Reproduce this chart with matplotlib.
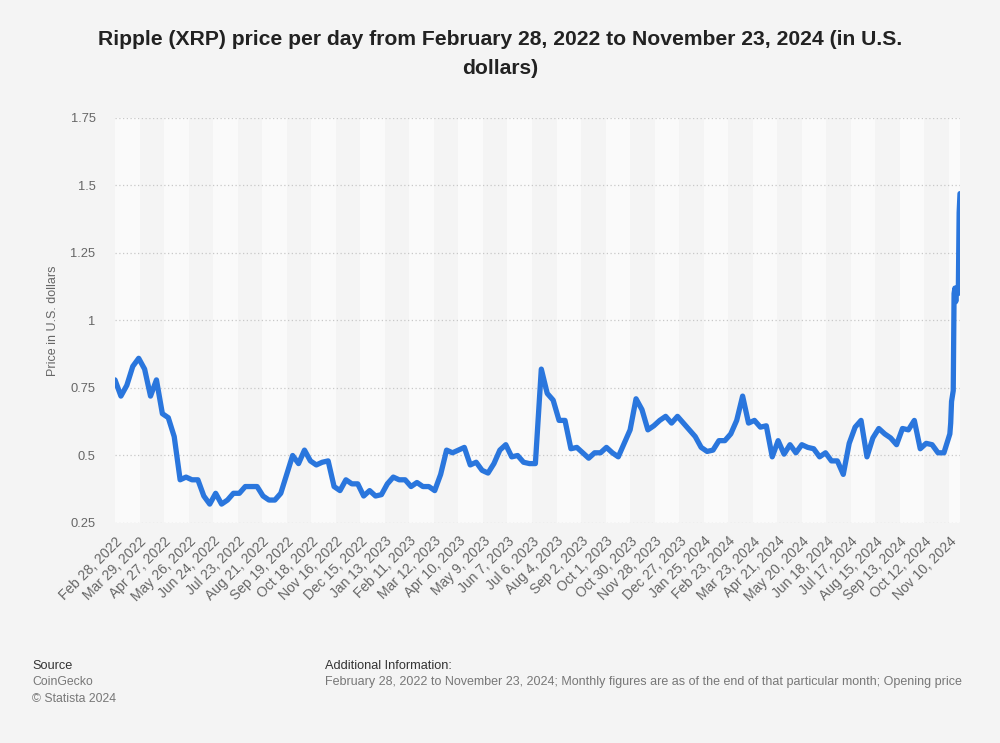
import numpy as np
import pandas as pd
import matplotlib
matplotlib.use("Agg")
import matplotlib.pyplot as plt
import matplotlib.dates as mdates

# weekly opening prices, then daily for the final rally
weekly_dates = pd.date_range("2022-02-28", "2024-11-11", freq="7D")
weekly_prices = [
    0.78, 0.72, 0.76, 0.83, 0.86, 0.82, 0.72, 0.78, 0.655, 0.64,
    0.57, 0.41, 0.42, 0.41, 0.41, 0.35, 0.32, 0.36, 0.32, 0.335,
    0.36, 0.36, 0.385, 0.385, 0.385, 0.35, 0.335, 0.335, 0.36, 0.43,
    0.50, 0.47, 0.52, 0.48, 0.465, 0.475, 0.48, 0.385, 0.37, 0.41,
    0.395, 0.395, 0.35, 0.37, 0.35, 0.355, 0.395, 0.42, 0.41, 0.41,
    0.385, 0.40, 0.385, 0.385, 0.37, 0.43, 0.52, 0.51, 0.52, 0.53,
    0.465, 0.475, 0.445, 0.435, 0.47, 0.52, 0.54, 0.495, 0.50, 0.475,
    0.47, 0.47, 0.82, 0.73, 0.705, 0.63, 0.63, 0.525, 0.53, 0.51,
    0.49, 0.51, 0.51, 0.53, 0.51, 0.495, 0.545, 0.595, 0.71, 0.67,
    0.595, 0.61, 0.63, 0.645, 0.62, 0.645, 0.62, 0.595, 0.57, 0.53,
    0.515, 0.52, 0.555, 0.555, 0.58, 0.63, 0.72, 0.62, 0.63, 0.605,
    0.61, 0.495, 0.555, 0.505, 0.54, 0.51, 0.54, 0.53, 0.525, 0.495,
    0.51, 0.48, 0.48, 0.43, 0.545, 0.605, 0.63, 0.495, 0.565, 0.60,
    0.58, 0.565, 0.54, 0.60, 0.595, 0.63, 0.525, 0.545, 0.54, 0.51,
    0.51, 0.58,
]
daily_dates = pd.date_range("2024-11-12", "2024-11-23", freq="D")
daily_prices = [0.62, 0.70, 0.72, 0.74, 1.10, 1.12, 1.07, 1.12, 1.11, 1.10, 1.40, 1.47]

dates = weekly_dates.append(daily_dates)
prices = weekly_prices + daily_prices

tick_dates = pd.date_range("2022-02-28", "2024-11-23", freq="29D")
y_ticks = [0.25, 0.5, 0.75, 1, 1.25, 1.5, 1.75]
y_labels = ["0.25", "0.5", "0.75", "1", "1.25", "1.5", "1.75"]

title = ("Ripple (XRP) price per day from February 28, 2022 to November 23, 2024 (in U.S.\n"
         "dollars)")

BG = "#f4f4f4"
BAND = "#fafafa"
BLUE = "#2a76dd"
GREY = "#666666"

plt.rcParams["font.family"] = ["Liberation Sans", "DejaVu Sans"]

fig = plt.figure(figsize=(10, 7.43), dpi=100, facecolor=BG)
ax = fig.add_axes([0.115, 0.2961, 0.845, 0.5451])
ax.set_facecolor(BG)

x_start = mdates.date2num(pd.Timestamp("2022-02-28"))
x_end = mdates.date2num(pd.Timestamp("2024-11-23"))
tick_x = mdates.date2num(tick_dates)
edges = list(tick_x) + [x_end]
for i in range(len(edges) - 1):
    if i % 2 == 0:
        ax.axvspan(edges[i], edges[i + 1], color=BAND, lw=0, zorder=0)

ax.plot(mdates.date2num(dates), prices, color=BLUE, lw=3.8,
        solid_joinstyle="round", solid_capstyle="round", zorder=3)

ax.set_xlim(x_start, x_end)
ax.set_ylim(0.25, 1.75)
ax.set_yticks(y_ticks)
ax.set_yticklabels(y_labels)
ax.set_xticks(tick_x)
ax.set_xticklabels([f"{d:%b} {d.day}, {d.year}" for d in tick_dates],
                   rotation=45, ha="right", rotation_mode="anchor")

ax.yaxis.grid(True, color="#c8c8c8", lw=0.9, ls=(0, (1, 2)), zorder=1)
ax.set_axisbelow(True)
for s in ax.spines.values():
    s.set_visible(False)
ax.tick_params(axis="y", length=0, pad=14, labelsize=9.3, labelcolor=GREY)
ax.tick_params(axis="x", length=0, pad=8, labelsize=10, labelcolor=GREY)
ax.set_ylabel("Price in U.S. dollars", fontsize=9, color=GREY, labelpad=8)

fig.text(0.5, 0.960, title, ha="center", va="top", fontsize=15.2,
         fontweight="bold", color="#222222", linespacing=1.66)

fig.text(0.032, 0.104, "Source", fontsize=9.2, color="#333333", va="center")
fig.text(0.032, 0.082, "CoinGecko", fontsize=8.8, color="#777777", va="center")
fig.text(0.032, 0.059, "\u00a9 Statista 2024", fontsize=8.8, color="#777777", va="center")
fig.text(0.325, 0.104, "Additional Information:", fontsize=9.2, color="#333333", va="center")
fig.text(0.325, 0.082,
         "February 28, 2022 to November 23, 2024; Monthly figures are as of the end of "
         "that particular month; Opening price",
         fontsize=9.0, color="#777777", va="center")

fig.savefig("out.png", dpi=100, facecolor=BG)
